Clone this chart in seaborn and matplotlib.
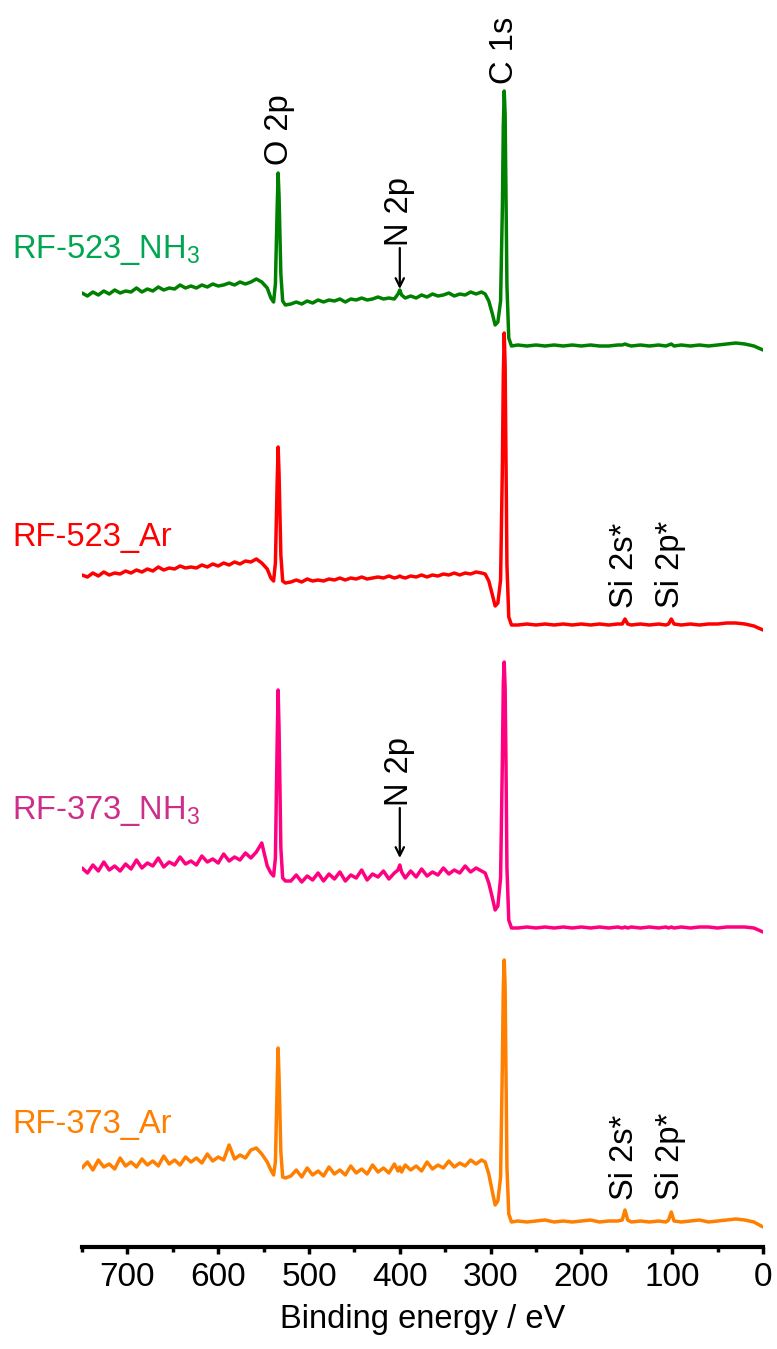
import matplotlib
matplotlib.use('Agg')
import matplotlib.pyplot as plt
import numpy as np
import pandas as pd
import seaborn as sns
from matplotlib.ticker import MultipleLocator

# Binding energy grid (eV)
be = ([750, 744, 738, 732, 726, 720, 714, 708, 702, 696, 690, 684, 678, 672, 666, 660, 654, 648,
       642, 636, 630, 624, 618, 612, 606, 600, 594, 588, 582, 576, 570, 564, 558, 552, 546]
      + [542, 539, 537, 535, 534, 533, 531, 529, 526]
      + [520, 514, 508, 502, 496, 490, 484, 478, 472, 466, 460, 454, 448, 442, 436, 430, 424, 418,
         412, 406, 402, 400, 398, 394, 388, 382, 376, 370, 364, 358, 352, 346, 340, 334, 328, 322,
         316, 310]
      + [306, 302, 298, 295, 292, 289, 287, 286, 285, 284, 283, 282, 280, 277]
      + [270, 260, 250, 240, 230, 220, 210, 200, 190, 180, 170, 160, 155, 152, 149, 145, 135, 125,
         115, 107, 104, 101, 98, 90, 80, 70, 60, 50, 40, 30, 20, 10, 0])

# Intensities (a.u.) of each spectrum, relative to its own baseline
rf523_nh3 = ([53, 50, 54, 51, 55, 52, 56, 53, 55, 54, 58, 54, 57, 55, 59, 56, 58, 57, 61, 58, 60, 58,
              61, 59, 62, 60, 61, 63, 61, 64, 62, 64, 67, 64, 58]
             + [48, 44, 62, 140, 173, 150, 72, 45, 41]
             + [42, 44, 42, 45, 43, 46, 44, 46, 45, 47, 44, 47, 46, 48, 46, 47, 49, 47, 48, 47, 52, 56,
                51, 48, 50, 48, 51, 49, 52, 50, 51, 53, 50, 52, 51, 54, 52, 54]
             + [52, 45, 32, 21, 24, 45, 140, 220, 255, 232, 150, 60, 8, 0]
             + [1, 0, 1, 0, 1, 0, 1, 0, 1, 0, 0, 1, 1, 2, 1, 0, 1, 0, 1, 0, 1, 2, 0, 1, 0, 1, 0, 1, 2,
                3, 2, 0, -4])
rf523_ar = ([50, 48, 52, 49, 53, 50, 52, 51, 54, 52, 55, 53, 56, 54, 58, 55, 57, 56, 59, 57, 58, 57,
             60, 58, 61, 59, 62, 60, 63, 61, 64, 63, 66, 62, 56]
            + [47, 44, 62, 145, 178, 152, 70, 44, 42]
            + [43, 45, 43, 46, 44, 45, 44, 46, 45, 47, 45, 47, 46, 48, 46, 47, 48, 47, 49, 47, 48, 49,
               48, 47, 49, 48, 50, 48, 50, 49, 51, 50, 52, 50, 52, 51, 53, 52]
            + [51, 44, 30, 19, 22, 45, 160, 250, 292, 260, 160, 60, 8, 0]
            + [0, 1, 0, 1, 0, 1, 0, 1, 0, 1, 0, 1, 1, 6, 1, 0, 1, 0, 1, 0, 1, 6, 1, 0, 1, 0, 1, 1, 2,
               2, 1, -1, -5])
rf373_nh3 = ([60, 55, 63, 57, 66, 58, 62, 57, 64, 59, 68, 60, 65, 62, 70, 61, 66, 63, 71, 64, 67, 63,
              72, 66, 69, 65, 74, 67, 71, 68, 75, 70, 76, 85, 62]
             + [55, 52, 70, 190, 238, 200, 80, 50, 47]
             + [47, 53, 46, 52, 48, 55, 47, 54, 49, 56, 47, 53, 50, 58, 48, 54, 51, 57, 49, 55, 58, 63,
                56, 50, 57, 51, 59, 52, 56, 53, 60, 54, 58, 55, 62, 56, 60, 57]
             + [55, 45, 30, 18, 22, 50, 170, 245, 266, 240, 160, 60, 8, 0]
             + [0, 1, 0, 1, 0, 1, 0, 1, 0, 1, 0, 1, 0, 1, 0, 1, 0, 1, 0, 1, 0, 1, 0, 1, 0, 1, 1, 0, 1,
                1, 1, 0, -4])
rf373_ar = ([54, 60, 52, 62, 55, 58, 53, 64, 56, 60, 55, 63, 57, 61, 56, 66, 58, 62, 57, 65, 60, 64,
             59, 68, 61, 65, 62, 77, 63, 67, 64, 72, 74, 68, 60]
            + [52, 47, 60, 140, 174, 145, 70, 45, 44]
            + [46, 52, 45, 54, 47, 51, 46, 55, 48, 52, 47, 56, 49, 53, 48, 57, 50, 54, 49, 58, 51, 55,
               50, 57, 52, 56, 51, 60, 53, 57, 54, 61, 55, 59, 56, 62, 58, 62]
            + [60, 48, 30, 17, 21, 45, 160, 235, 262, 235, 150, 55, 8, 0]
            + [1, 0, 1, 2, 0, 1, 0, 1, 2, 0, 1, 1, 2, 12, 2, 0, 1, 0, 1, 0, 2, 10, 1, 0, 1, 2, 0, 1, 2,
               3, 2, 0, -5])

samples = ['RF-523_NH3', 'RF-523_Ar', 'RF-373_NH3', 'RF-373_Ar']
sample_labels = ['RF-523_NH$_3$', 'RF-523_Ar', 'RF-373_NH$_3$', 'RF-373_Ar']
spectra = [rf523_nh3, rf523_ar, rf373_nh3, rf373_ar]

# layout / style (not data)
offsets = [901, 622, 319, 25]
line_colors = ['#008000', '#FF0000', '#FF0080', '#FF8000']
label_colors = ['#00A651', '#FF0000', '#CC2E8A', '#FF8000']
label_baseline_px = [258, 546, 819, 1133]

sns.set_style('white')
plt.rcParams['font.family'] = ['Liberation Sans', 'DejaVu Sans']
plt.rcParams['mathtext.fontset'] = 'custom'
plt.rcParams['mathtext.rm'] = 'Liberation Sans'
plt.rcParams['mathtext.it'] = 'Liberation Sans:italic'
plt.rcParams['mathtext.bf'] = 'Liberation Sans:bold'
plt.rcParams['text.color'] = 'black'
plt.rcParams['axes.labelcolor'] = 'black'
plt.rcParams['xtick.color'] = 'black'
plt.rcParams['xtick.labelcolor'] = 'black'

rows = []
for name, vals, off in zip(samples, spectra, offsets):
    for e, v in zip(be, vals):
        rows.append({'be': e, 'y': v + off, 'sample': name})
df = pd.DataFrame(rows)

W, H = 777, 1349
fig = plt.figure(figsize=(W / 100, H / 100), dpi=100)
ax = fig.add_axes([82 / W, 1 - 1247 / H, 681 / W, 1247 / H])

sns.lineplot(data=df, x='be', y='y', hue='sample', palette=dict(zip(samples, line_colors)),
             legend=False, linewidth=2.5, ax=ax, sort=True, errorbar=None)

ax.set_xlim(750, 0)
ax.set_ylim(0, 1247)
ax.set_yticks([])
ax.set_ylabel('')
for s in ['left', 'right', 'top']:
    ax.spines[s].set_visible(False)
ax.spines['bottom'].set_linewidth(3)
ax.spines['bottom'].set_color('black')
ax.xaxis.set_major_locator(MultipleLocator(100))
ax.xaxis.set_minor_locator(MultipleLocator(50))
ax.tick_params(axis='x', which='major', length=5, width=2.5, direction='out',
               labelsize=24, pad=6, color='black', labelcolor='black', bottom=True)
ax.tick_params(axis='x', which='minor', length=3.5, width=2.5, direction='out',
               color='black', bottom=True)
ax.set_xlabel('Binding energy / eV', fontsize=23.5, labelpad=8, color='black')

fs = 23.5
# peak labels
ax.text(533, 1247 - 165, 'O 2p', rotation=90, ha='center', va='bottom', fontsize=fs, color='black')
ax.text(285, 1247 - 84, 'C 1s', rotation=90, ha='center', va='bottom', fontsize=fs, color='black')
for y_text, y_tip, y_tail in [(1247 - 246, 1247 - 289, 1247 - 248), (1247 - 806, 1247 - 858, 1247 - 808)]:
    ax.text(400, y_text, 'N 2p', rotation=90, ha='center', va='bottom', fontsize=fs, color='black')
    ax.annotate('', xy=(400, y_tip), xytext=(400, y_tail),
                arrowprops=dict(arrowstyle='->,head_length=0.6,head_width=0.3', lw=1.6, color='black',
                                shrinkA=0, shrinkB=0))
for y_px in [608, 1200]:
    ax.text(153, 1247 - y_px, 'Si 2s*', rotation=90, ha='center', va='bottom', fontsize=fs, color='black')
    ax.text(102, 1247 - y_px, 'Si 2p*', rotation=90, ha='center', va='bottom', fontsize=fs, color='black')

for lab, col, ypx in zip(sample_labels, label_colors, label_baseline_px):
    fig.text(12 / W, 1 - ypx / H, lab, color=col, fontsize=fs, ha='left', va='baseline')

fig.savefig('out.png', dpi=100)
